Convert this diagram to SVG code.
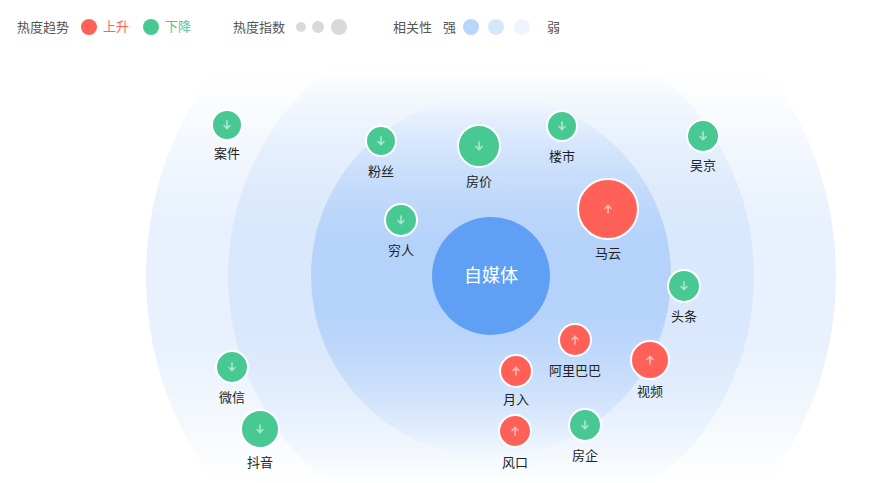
<svg xmlns="http://www.w3.org/2000/svg" width="891" height="483" viewBox="0 0 891 483">
<style>
text{font-family:"Noto Sans CJK SC","Liberation Sans",sans-serif;}
.lg{font-size:13px;fill:#555;}
.lb{font-size:13px;fill:#222;text-anchor:middle;}
.g{fill:#48c993;stroke:#fff;stroke-width:2;}
.r{fill:#ff6159;stroke:#fff;stroke-width:2;}
.ar{fill:none;stroke:#fff;stroke-opacity:0.55;stroke-width:1.6;stroke-linecap:round;}
</style>
<defs>
<linearGradient id="g1" x1="0" y1="0" x2="0" y2="1">
<stop offset="0.2" stop-color="#e8f1fd" stop-opacity="0"/>
<stop offset="0.42" stop-color="#e8f1fd"/>
<stop offset="0.6" stop-color="#e8f1fd"/>
<stop offset="0.8" stop-color="#e8f1fd" stop-opacity="0"/>
</linearGradient>
<linearGradient id="g2" x1="0" y1="0" x2="0" y2="1">
<stop offset="0.1" stop-color="#d9e8fc" stop-opacity="0"/>
<stop offset="0.42" stop-color="#d9e8fc"/>
<stop offset="0.6" stop-color="#d9e8fc"/>
<stop offset="0.9" stop-color="#d9e8fc" stop-opacity="0"/>
</linearGradient>
<linearGradient id="g3" x1="0" y1="0" x2="0" y2="1">
<stop offset="0" stop-color="#b5d2fa" stop-opacity="0"/>
<stop offset="0.4" stop-color="#b5d2fa"/>
<stop offset="0.6" stop-color="#b5d2fa"/>
<stop offset="1" stop-color="#b5d2fa" stop-opacity="0"/>
</linearGradient>
<g id="up"><path class="ar" d="M0,4V-3.5M-3,-0.5L0,-3.5L3,-0.5"/></g>
<g id="dn"><path class="ar" d="M0,-4V3.5M-3,0.5L0,3.5L3,0.5"/></g>
</defs>
<g id="legend">
<text class="lg" x="17" y="32">热度趋势</text>
<circle cx="89" cy="27" r="8" fill="#ff6159"/>
<text class="lg" x="103" y="31" fill="#ff6159" style="fill:#ff6159">上升</text>
<circle cx="151" cy="27" r="8" fill="#48c993"/>
<text class="lg" x="165" y="31" style="fill:#48c993">下降</text>
<text class="lg" x="233" y="32">热度指数</text>
<circle cx="301" cy="27" r="5" fill="#d9d9d9"/>
<circle cx="318" cy="27" r="6" fill="#d9d9d9"/>
<circle cx="339" cy="27" r="8" fill="#d9d9d9"/>
<text class="lg" x="393" y="32">相关性</text>
<text class="lg" x="443" y="32">强</text>
<circle cx="471" cy="27" r="8" fill="#b9d5fa"/>
<circle cx="496" cy="27" r="8" fill="#d5e6fc"/>
<circle cx="522" cy="27" r="8" fill="#eef5fe"/>
<text class="lg" x="547" y="32">弱</text>
</g>
<g id="rings">
<circle cx="491" cy="276" r="345" fill="url(#g1)"/>
<circle cx="491" cy="276" r="263" fill="url(#g2)"/>
<circle cx="491" cy="276" r="180" fill="url(#g3)"/>
</g>
<g id="connectors"></g>
<g id="center"><circle cx="491" cy="276" r="59" fill="#5fa0f5"/><text x="491" y="282" font-size="18" fill="#fff" text-anchor="middle">自媒体</text></g>
<g id="n1"><circle class="g" cx="227" cy="125" r="15"/><use href="#dn" x="227" y="125"/><text class="lb" x="227" y="158">案件</text></g>
<g id="n2"><circle class="g" cx="381" cy="141" r="15"/><use href="#dn" x="381" y="141"/><text class="lb" x="381" y="176">粉丝</text></g>
<g id="n3"><circle class="g" cx="479" cy="146" r="21"/><use href="#dn" x="479" y="146"/><text class="lb" x="479" y="186">房价</text></g>
<g id="n4"><circle class="g" cx="562" cy="126" r="15"/><use href="#dn" x="562" y="126"/><text class="lb" x="562" y="161">楼市</text></g>
<g id="n5"><circle class="g" cx="703" cy="136" r="16"/><use href="#dn" x="703" y="136"/><text class="lb" x="703" y="170">吴京</text></g>
<g id="n6"><circle class="g" cx="401" cy="220" r="16"/><use href="#dn" x="401" y="220"/><text class="lb" x="401" y="255">穷人</text></g>
<g id="n7"><circle class="r" cx="608" cy="209" r="30"/><use href="#up" x="608" y="209"/><text class="lb" x="608" y="258">马云</text></g>
<g id="n8"><circle class="g" cx="684" cy="286" r="16"/><use href="#dn" x="684" y="286"/><text class="lb" x="684" y="321">头条</text></g>
<g id="n9"><circle class="r" cx="575" cy="340" r="16"/><use href="#up" x="575" y="340"/><text class="lb" x="575" y="375">阿里巴巴</text></g>
<g id="n10"><circle class="r" cx="650" cy="360" r="19"/><use href="#up" x="650" y="360"/><text class="lb" x="650" y="396">视频</text></g>
<g id="n11"><circle class="r" cx="516" cy="371" r="16"/><use href="#up" x="516" y="371"/><text class="lb" x="516" y="404">月入</text></g>
<g id="n12"><circle class="g" cx="232" cy="367" r="16"/><use href="#dn" x="232" y="367"/><text class="lb" x="232" y="402">微信</text></g>
<g id="n13"><circle class="g" cx="260" cy="429" r="19"/><use href="#dn" x="260" y="429"/><text class="lb" x="260" y="467">抖音</text></g>
<g id="n14"><circle class="r" cx="515" cy="431" r="16"/><use href="#up" x="515" y="431"/><text class="lb" x="515" y="467">风口</text></g>
<g id="n15"><circle class="g" cx="585" cy="425" r="16"/><use href="#dn" x="585" y="425"/><text class="lb" x="585" y="460">房企</text></g>
</svg>
